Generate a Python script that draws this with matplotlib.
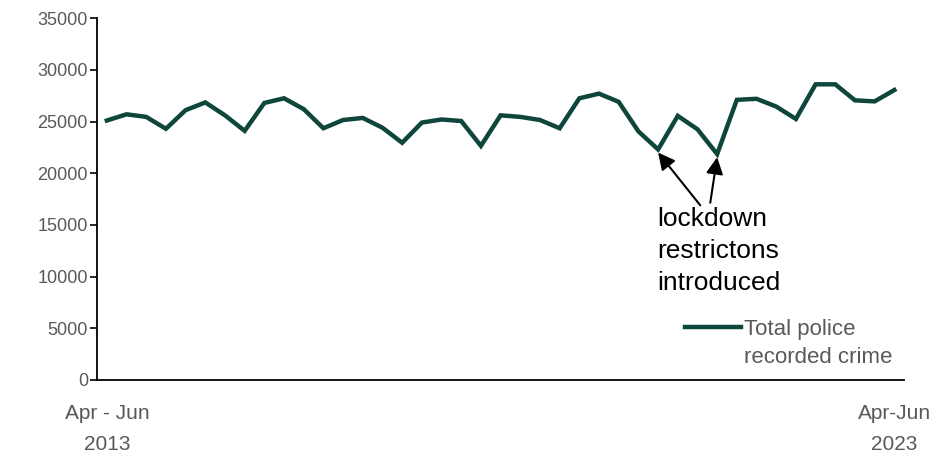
import matplotlib
matplotlib.use("Agg")
import matplotlib.pyplot as plt

# Quarterly police recorded crime, Apr-Jun 2013 to Apr-Jun 2023
crime = [25100, 25700, 25450, 24300, 26100, 26850, 25600, 24100, 26800, 27250,
         26200, 24350, 25150, 25350, 24400, 22950, 24900, 25200, 25050, 22650,
         25600, 25450, 25150, 24350, 27250, 27700, 26900, 24050, 22300, 25550,
         24250, 21850, 27100, 27200, 26450, 25250, 28600, 28600, 27050, 26950,
         28050]
tick_labels = ["Apr - Jun\n2013", "Apr-Jun\n2023"]
lockdown_idx = [28, 31]
y_ticks = [0, 5000, 10000, 15000, 20000, 25000, 30000, 35000]

line_col = "#0f463c"
grey = "#595959"
font = "Liberation Sans"

fig = plt.figure(figsize=(9.31, 4.54), dpi=100)
ax = fig.add_axes([0.1042, 0.163, 0.867, 0.797])

x = list(range(len(crime)))
ax.plot(x, crime, color=line_col, lw=3.2, solid_joinstyle="miter",
        label="Total police\nrecorded crime")

ax.set_xlim(-0.5, len(crime) - 0.5)
ax.set_ylim(0, 35000)
ax.set_yticks(y_ticks)
ax.set_xticks([0, len(crime) - 1])
ax.set_xticklabels(tick_labels, linespacing=1.75)

for lab in ax.get_yticklabels():
    lab.set_family(font)
    lab.set_fontsize(13)
    lab.set_color(grey)
for lab in ax.get_xticklabels():
    lab.set_family(font)
    lab.set_fontsize(15)
    lab.set_color(grey)

ax.tick_params(axis="x", length=0, pad=17.5)
ax.tick_params(axis="y", length=5, width=1.2, pad=1.5)

for s in ["top", "right"]:
    ax.spines[s].set_visible(False)
for s in ["left", "bottom"]:
    ax.spines[s].set_linewidth(1.3)

# annotation for lockdowns
ax.text(27.95, 16750, "lockdown\nrestrictons\nintroduced", fontsize=19,
        family=font, ha="left", va="top", linespacing=1.42)
tails = [(30.14, 16900), (30.65, 17150)]
for i, t in zip(lockdown_idx, tails):
    ax.annotate("", xy=(i, crime[i] - 300), xytext=t,
                arrowprops=dict(arrowstyle="-|>,head_length=0.75,head_width=0.38",
                                color="black", lw=1.5, shrinkA=0, shrinkB=0),
                fontsize=13.5)

leg = ax.legend(loc="upper left", bbox_to_anchor=(0.7286, 0.168), frameon=False,
                handlelength=2.5, handletextpad=0.15, borderpad=0,
                borderaxespad=0, prop={"family": font, "size": 16})
for t in leg.get_texts():
    t.set_color(grey)
    t.set_linespacing(1.45)
# put the legend line beside the first text line
hl = leg.get_lines()[0]
hl.set_ydata([v + 12 for v in hl.get_ydata()])

fig.savefig("out.png", dpi=100)
